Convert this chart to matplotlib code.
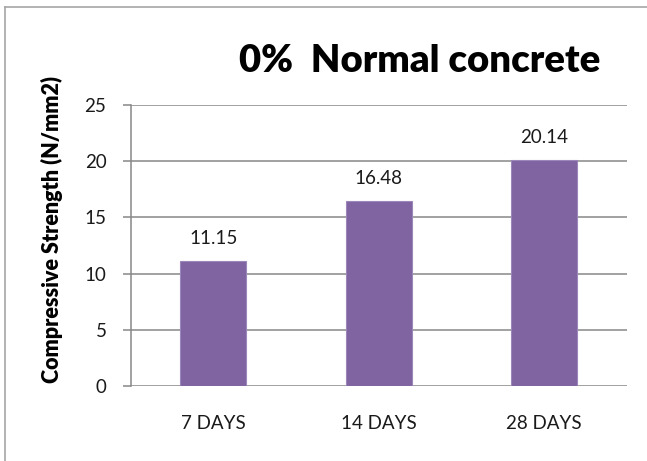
import matplotlib
matplotlib.use("Agg")
import matplotlib.pyplot as plt
from matplotlib.lines import Line2D

categories = ["7 DAYS", "14 DAYS", "28 DAYS"]
values = [11.15, 16.48, 20.14]
yticks = [0, 5, 10, 15, 20, 25]
title = "0%  Normal concrete"
ylabel = "Compressive Strength (N/mm2)"

W, H = 647, 461
fig = plt.figure(figsize=(W / 100, H / 100), dpi=100)
fig.patch.set_facecolor("white")

FONT = "Lato"
TXT = "#1a1a1a"
GRID = "#888888"

ax = fig.add_axes([130.7 / W, 75.3 / H, 496 / W, 280.4 / H])
x = list(range(len(categories)))
ax.bar(x, values, width=0.4, color="#8064A2", edgecolor="#9C86BA",
       linewidth=0.8, zorder=3)
ax.set_xlim(-0.5, len(categories) - 0.5)
ax.set_ylim(0, 25)
ax.set_yticks(yticks)
ax.set_yticklabels([str(t) for t in yticks], fontfamily=FONT, fontsize=13.5, color=TXT)
ax.set_xticks(x)
ax.set_xticklabels(categories, fontfamily=FONT, fontsize=13.5, color=TXT)
ax.grid(axis="y", color=GRID, linewidth=1.1, zorder=0)
ax.set_axisbelow(True)
for s in ["top", "right"]:
    ax.spines[s].set_visible(False)
ax.spines["left"].set_color(GRID)
ax.spines["left"].set_linewidth(1.1)
ax.spines["bottom"].set_visible(False)
ax.tick_params(axis="y", length=6, width=1.1, color=GRID, pad=11.5)
ax.tick_params(axis="x", length=0, pad=21)

for xi, v in zip(x, values):
    ax.annotate(f"{v:.2f}", (xi, v), xytext=(0, 15.8), textcoords="offset points",
                ha="center", va="center", fontfamily=FONT, fontsize=13.5, color=TXT)

fig.text(420 / W, 1 - 61 / H, title, ha="center", va="center",
         fontfamily=FONT, fontweight="heavy", fontsize=27.5, color="black")
fig.text(52 / W, 1 - 229.5 / H, ylabel, ha="center", va="center", rotation=90,
         fontfamily=FONT, fontweight="heavy", fontsize=15.5, color="black")

# outer chart border (left and top visible)
bx, by = 5 / W, 1 - 7.5 / H
fig.add_artist(Line2D([bx, bx], [0, by], transform=fig.transFigure, color="#a6a6a6", linewidth=1.2))
fig.add_artist(Line2D([bx, 1], [by, by], transform=fig.transFigure, color="#a6a6a6", linewidth=1.2))

fig.savefig("out.png", dpi=100, facecolor="white")
